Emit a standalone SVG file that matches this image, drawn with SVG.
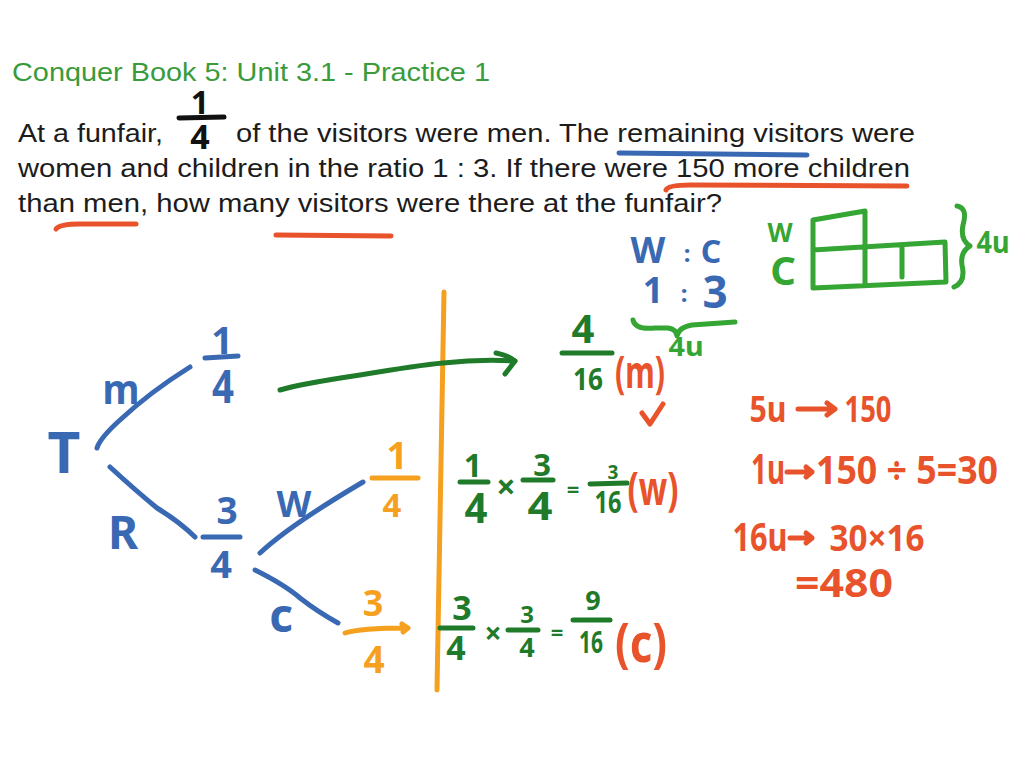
<svg xmlns="http://www.w3.org/2000/svg" width="1024" height="768" viewBox="0 0 1024 768">
<style>
.ty{font-family:"Liberation Sans",Arial,sans-serif;font-size:26px;fill:#1c1c1c}
.ti{font-family:"Liberation Sans",Arial,sans-serif;font-size:26px;fill:#3a9b3c}
.hw{font-family:"Noto Sans","DejaVu Sans",sans-serif;font-weight:700;text-anchor:middle}
.b{fill:#3a69b4}.r{fill:#e8532b}.o{fill:#f5a01e}.g{fill:#1f7a2a}.lg{fill:#35a534}.k{fill:#111}
.sb{stroke:#3a69b4;stroke-width:5;fill:none;stroke-linecap:round;stroke-linejoin:round}
.sr{stroke:#e8532b;stroke-width:5;fill:none;stroke-linecap:round;stroke-linejoin:round}
.so{stroke:#f5a01e;stroke-width:5;fill:none;stroke-linecap:round;stroke-linejoin:round}
.sg{stroke:#1f7a2a;stroke-width:5;fill:none;stroke-linecap:round;stroke-linejoin:round}
.slg{stroke:#35a534;stroke-width:5;fill:none;stroke-linecap:round;stroke-linejoin:round}
.sk{stroke:#111;stroke-width:5;fill:none;stroke-linecap:round}
</style>
<rect width="1024" height="768" fill="#fff"/>

<g id="question">
<text class="ti" x="12" y="81" textLength="478" lengthAdjust="spacingAndGlyphs">Conquer Book 5: Unit 3.1 - Practice 1</text>
<text class="ty" x="18" y="142" textLength="145" lengthAdjust="spacingAndGlyphs">At a funfair,</text>
<text class="ty" x="236" y="142" textLength="679" lengthAdjust="spacingAndGlyphs">of the visitors were men. The remaining visitors were</text>
<text class="ty" x="18" y="177" textLength="892" lengthAdjust="spacingAndGlyphs">women and children in the ratio 1 : 3. If there were 150 more children</text>
<text class="ty" x="18" y="212" textLength="704" lengthAdjust="spacingAndGlyphs">than men, how many visitors were there at the funfair?</text>
<text class="hw k" x="200" y="114" font-size="32">1</text>
<path class="sk" d="M179,118 L224,117"/>
<text class="hw k" x="200" y="149" font-size="34">4</text>
</g>

<g id="underlines">
<path class="sb" d="M619,153 L807,155"/>
<path class="sr" d="M666,190 Q668,185 690,185 L907,186"/>
<path class="sr" d="M56,229 Q60,224 80,224 L136,224"/>
<path class="sr" d="M276,235 L391,236"/>
</g>

<g id="tree">
<text class="hw b" x="64" y="473" font-size="57">T</text>
<path class="sb" d="M97,448 Q100,438 120,420 Q150,392 190,367"/>
<text class="hw b" x="121" y="404" font-size="42" textLength="37" lengthAdjust="spacingAndGlyphs">m</text>
<text class="hw b" x="222" y="354" font-size="38">1</text>
<path class="sb" d="M205,358 L238,356"/>
<text class="hw b" x="223" y="403" font-size="46" textLength="22" lengthAdjust="spacingAndGlyphs">4</text>

<path class="sb" d="M110,467 Q135,490 157,508 Q180,522 195,537"/>
<text class="hw b" x="123" y="549" font-size="46">R</text>
<text class="hw b" x="227" y="524" font-size="37">3</text>
<path class="sb" d="M203,537 L240,537"/>
<text class="hw b" x="221" y="578" font-size="38">4</text>

<path class="sb" d="M260,553 Q290,525 363,482"/>
<text class="hw b" x="294" y="517" font-size="36">W</text>
<path class="sb" d="M255,570 Q285,585 300,598 Q318,612 338,623"/>
<text class="hw b" x="281" y="632" font-size="46">c</text>

<text class="hw o" x="397" y="469" font-size="37">1</text>
<path class="so" d="M372,478 L418,478"/>
<text class="hw o" x="392" y="517" font-size="33">4</text>
<text class="hw o" x="373" y="616" font-size="36">3</text>
<path class="so" d="M345,633 Q360,628 408,628 M402,624 L408,628 L403,632"/>
<text class="hw o" x="374" y="673" font-size="37">4</text>
</g>

<g id="divider">
<path class="so" d="M444,292 L437,690" stroke-width="4"/>
</g>

<g id="men-arrow">
<path class="sg" d="M280,390 Q300,384 360,375 Q420,365 443,363 Q480,359 515,361"/>
<path class="sg" d="M496,353 Q510,356 515,361 L505,374"/>
</g>

<g id="men-result">
<text class="hw g" x="583" y="343" font-size="40">4</text>
<path class="sg" d="M562,353 L612,353"/>
<text class="hw g" x="588" y="390" font-size="31" textLength="30" lengthAdjust="spacingAndGlyphs">16</text>
<text class="hw r" x="640" y="388" font-size="44" textLength="50" lengthAdjust="spacingAndGlyphs">(m)</text>
<text class="hw lg" x="686" y="356" font-size="26" textLength="35" lengthAdjust="spacingAndGlyphs">4u</text>
<path class="sr" d="M642,413 L650,424 L663,404"/>
</g>

<g id="ratio">
<text class="hw b" x="648" y="263" font-size="36">W</text>
<text class="hw b" x="687" y="262" font-size="24" font-weight="400">:</text>
<text class="hw b" x="711" y="263" font-size="32">C</text>
<text class="hw b" x="653" y="303" font-size="36">1</text>
<text class="hw b" x="684" y="302" font-size="24" font-weight="400">:</text>
<text class="hw b" x="715" y="308" font-size="44">3</text>
<path class="slg" d="M633,320 Q635,330 655,328 L668,328 Q676,329 677,336 Q679,327 692,325 L735,322"/>
</g>

<g id="bar-model">
<text class="hw lg" x="780" y="242" font-size="26">W</text>
<text class="hw lg" x="783" y="285" font-size="40">C</text>
<path class="slg" d="M813,220 L865,211 L865,283 M813,220 L813,288 L946,282 L945,242 L813,250 M902,245 L902,277"/>
<path class="slg" d="M957,206 Q968,208 963,225 Q960,240 970,246 Q960,252 962,265 Q966,282 954,287"/>
<text class="hw lg" x="993" y="253" font-size="30" textLength="33" lengthAdjust="spacingAndGlyphs">4u</text>
</g>

<g id="products">
<text class="hw g" x="473" y="477" font-size="32">1</text>
<path class="sg" d="M460,482 L488,482"/>
<text class="hw g" x="476" y="523" font-size="42" textLength="23" lengthAdjust="spacingAndGlyphs">4</text>
<text class="hw g" x="506" y="499" font-size="34">×</text>
<text class="hw g" x="542" y="476" font-size="31">3</text>
<path class="sg" d="M523,480 L553,480"/>
<text class="hw g" x="540" y="520" font-size="40" textLength="25" lengthAdjust="spacingAndGlyphs">4</text>
<text class="hw g" x="573" y="497" font-size="22">=</text>
<text class="hw g" x="613" y="479" font-size="19">3</text>
<path class="sg" d="M590,484 L627,483"/>
<text class="hw g" x="608" y="513" font-size="31" textLength="27" lengthAdjust="spacingAndGlyphs">16</text>
<text class="hw r" x="653" y="505" font-size="46" textLength="51" lengthAdjust="spacingAndGlyphs">(w)</text>

<text class="hw g" x="462" y="620" font-size="34">3</text>
<path class="sg" d="M440,628 L473,628"/>
<text class="hw g" x="456" y="660" font-size="34">4</text>
<text class="hw g" x="493" y="644" font-size="30">×</text>
<text class="hw g" x="527" y="623" font-size="24">3</text>
<path class="sg" d="M508,630 L538,630"/>
<text class="hw g" x="527" y="657" font-size="27">4</text>
<text class="hw g" x="557" y="640" font-size="22">=</text>
<text class="hw g" x="593" y="610" font-size="27">9</text>
<path class="sg" d="M573,620 L610,620"/>
<text class="hw g" x="591" y="653" font-size="31" textLength="24" lengthAdjust="spacingAndGlyphs">16</text>
<text class="hw r" x="641" y="662" font-size="54" textLength="52" lengthAdjust="spacingAndGlyphs">(c)</text>
</g>

<g id="working">
<text class="hw r" x="768" y="422" font-size="35" textLength="37" lengthAdjust="spacingAndGlyphs">5u</text>
<path class="sr" d="M798,409 L835,409 M827,403 L835,409 L827,415"/>
<text class="hw r" x="868" y="422" font-size="35" textLength="47" lengthAdjust="spacingAndGlyphs">150</text>

<text class="hw r" x="768" y="484" font-size="42" textLength="34" lengthAdjust="spacingAndGlyphs">1u</text>
<path class="sr" d="M787,472 L812,472 M806,467 L812,472 L806,477"/>
<text class="hw r" x="907" y="484" font-size="40" textLength="182" lengthAdjust="spacingAndGlyphs">150 ÷ 5=30</text>

<text class="hw r" x="760" y="551" font-size="40" textLength="55" lengthAdjust="spacingAndGlyphs">16u</text>
<path class="sr" d="M790,538 L812,538 M806,533 L812,538 L806,543"/>
<text class="hw r" x="877" y="551" font-size="36" textLength="95" lengthAdjust="spacingAndGlyphs">30×16</text>

<text class="hw r" x="844" y="597" font-size="40" textLength="98" lengthAdjust="spacingAndGlyphs">=480</text>
</g>
</svg>
